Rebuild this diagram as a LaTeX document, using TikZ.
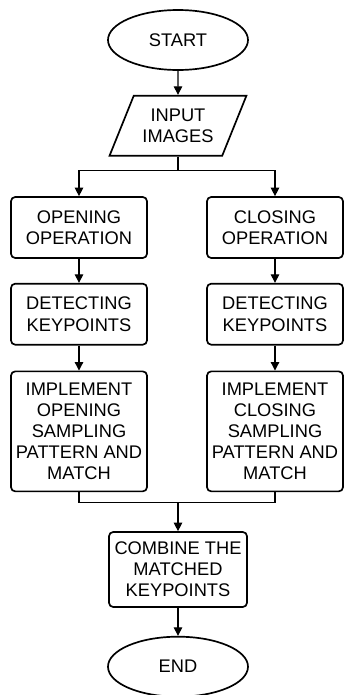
\documentclass[tikz,border=0pt]{standalone}
\usepackage{fontspec}
\setmainfont{Liberation Sans}
\usetikzlibrary{arrows.meta, positioning, shapes.geometric}

\tikzset{
    term/.style={draw, ellipse, line width=1.2pt, minimum width=3.5cm, minimum height=1.5cm},
    io/.style={draw, trapezium, trapezium left angle=63, trapezium right angle=117, trapezium stretches=true, line width=1.2pt, minimum width=3.45cm, minimum height=1.5cm, align=center},
    stepbox/.style={draw, rectangle, rounded corners=3pt, line width=1.2pt, minimum width=3.4cm, align=center},
    arrow/.style={-{Triangle[width=6pt,length=6pt]}, line width=0.8pt},
    link/.style={line width=0.8pt}
}

\begin{document}
\begin{tikzpicture}[font=\fontsize{13}{15}\selectfont]
    \useasboundingbox (0,0) rectangle (8.6,-17.375);
    \node[term] (start) at (4.45,-1.0) {START};
    \node[io, below=0.6cm of start] (input) {INPUT\\IMAGES};
    \node[stepbox, minimum height=1.525cm] (open) at (1.975,-5.6875) {OPENING\\OPERATION};
    \node[stepbox, minimum height=1.525cm] (close) at (6.875,-5.6875) {CLOSING\\OPERATION};
    \node[stepbox, minimum height=1.525cm, below=0.6cm of open] (odet) {DETECTING\\KEYPOINTS};
    \node[stepbox, minimum height=1.525cm, below=0.6cm of close] (cdet) {DETECTING\\KEYPOINTS};
    \node[stepbox, minimum height=3cm, below=0.625cm of odet] (oimpl) {IMPLEMENT\\OPENING\\SAMPLING\\PATTERN AND\\MATCH};
    \node[stepbox, minimum height=3cm, below=0.625cm of cdet] (cimpl) {IMPLEMENT\\CLOSING\\SAMPLING\\PATTERN AND\\MATCH};
    \node[stepbox, minimum width=3.45cm, minimum height=1.875cm] (comb) at (4.45,-14.2375) {COMBINE THE\\MATCHED\\KEYPOINTS};
    \node[term, below=0.7cm of comb] (fin) {END};

    \draw[arrow] (start) -- (input);
    \draw[link] (input.south) -- ++(0,-0.35) coordinate (split);
    \draw[arrow] (split) -| (open);
    \draw[arrow] (split) -| (close);
    \draw[arrow] (open) -- (odet);
    \draw[arrow] (close) -- (cdet);
    \draw[arrow] (odet) -- (oimpl);
    \draw[arrow] (cdet) -- (cimpl);
    \coordinate (merge) at ([yshift=0.725cm]comb.north);
    \draw[link] (oimpl) |- (merge);
    \draw[link] (cimpl) |- (merge);
    \draw[arrow] (merge) -- (comb);
    \draw[arrow] (comb) -- (fin);
\end{tikzpicture}
\end{document}
